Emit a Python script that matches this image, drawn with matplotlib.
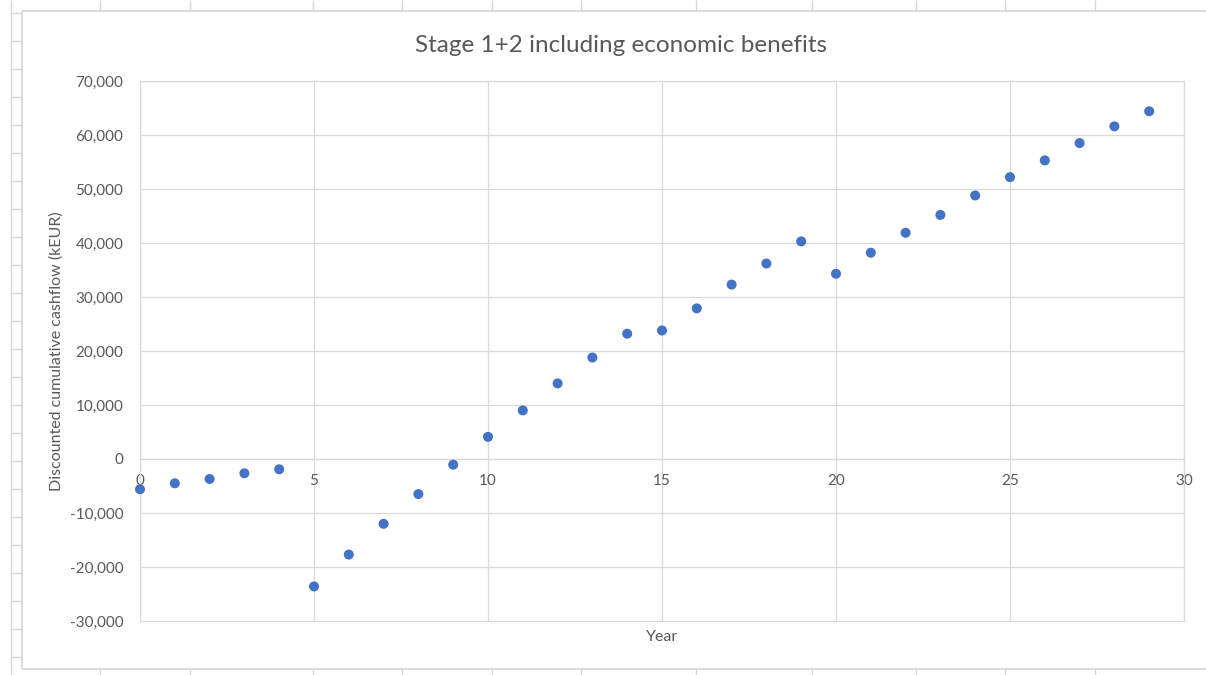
import matplotlib
matplotlib.use("Agg")
import matplotlib.pyplot as plt
from matplotlib.lines import Line2D
from matplotlib.ticker import FuncFormatter, MultipleLocator

# Discounted cumulative cashflow per project year (kEUR)
years = list(range(30))
cashflow = [
    -5600, -4500, -3700, -2650, -1900,
    -23600, -17700, -12000, -6500, -1050,
    4100, 9000, 14000, 18800, 23200,
    23800, 27900, 32300, 36200, 40300,
    34300, 38200, 41900, 45200, 48800,
    52200, 55300, 58500, 61600, 64400,
]

title = "Stage 1+2 including economic benefits"
x_title = "Year"
y_title = "Discounted cumulative cashflow (kEUR)"

W, H = 1206, 675
TEXT = "#595959"
GRID = "#d9d9d9"
SHEET = "#d6d6d6"
MARKER = "#4472C4"

plt.rcParams["font.family"] = ["Lato", "DejaVu Sans"]

fig = plt.figure(figsize=(W / 100, H / 100), dpi=100)
fig.patch.set_facecolor("white")


def px(x, y):
    return x / W, 1 - y / H


def sheet_line(x0, y0, x1, y1, color=SHEET, lw=1.0):
    (a, b), (c, d) = px(x0, y0), px(x1, y1)
    fig.add_artist(Line2D([a, c], [b, d], transform=fig.transFigure,
                          color=color, lw=lw, solid_capstyle="butt"))


# worksheet cell borders around the embedded chart
col_edges = [100, 190, 313, 402, 492, 581, 696, 812, 916, 1005, 1095]
for cx in col_edges:
    sheet_line(cx, 0, cx, 11)
    sheet_line(cx, 669, cx, 675)
sheet_line(11, 0, 11, 675)
for k in range(24):
    ry = 12.7 + 28 * k
    sheet_line(11, ry, 22, ry)

# chart area frame
sheet_line(22, 11, W, 11, color="#d9d9d9", lw=1.3)
sheet_line(22, 11, 22, 669, color="#d9d9d9", lw=1.3)
sheet_line(22, 669, W, 669, color="#d9d9d9", lw=1.3)

# plot area
l, t = px(140, 81)
r, b = px(1184, 621)
ax = fig.add_axes([l, b, r - l, t - b])
ax.set_facecolor("none")
ax.set_xlim(0, 30)
ax.set_ylim(-30000, 70000)
ax.xaxis.set_major_locator(MultipleLocator(5))
ax.yaxis.set_major_locator(MultipleLocator(10000))
ax.grid(True, color=GRID, lw=0.9, zorder=0)
ax.set_axisbelow(True)

for side in ("left", "right", "top"):
    ax.spines[side].set_color(GRID)
    ax.spines[side].set_linewidth(0.9)
ax.spines["bottom"].set_position(("data", 0))
ax.spines["bottom"].set_color(GRID)
ax.spines["bottom"].set_linewidth(0.9)
ax.axhline(-30000, color=GRID, lw=0.9, clip_on=False, zorder=0)

ax.yaxis.set_major_formatter(FuncFormatter(lambda v, _: f"{v:,.0f}"))
ax.tick_params(axis="both", length=0, colors=TEXT, labelsize=11)
ax.tick_params(axis="x", pad=11)
ax.tick_params(axis="y", pad=12)

ax.scatter(years, cashflow, s=52, color=MARKER, edgecolors="none",
           zorder=3, clip_on=False)

tx, ty = px(621, 45)
fig.text(tx, ty, title, ha="center", va="center", fontsize=17.5, color=TEXT)
lx, ly = px(57, 351)
fig.text(lx, ly, y_title, ha="center", va="center", rotation=90,
         fontsize=11.5, color=TEXT)
xx, xy = px(662, 637)
fig.text(xx, xy, x_title, ha="center", va="center", fontsize=11.5, color=TEXT)

fig.savefig("out.png", dpi=100, facecolor="white")
